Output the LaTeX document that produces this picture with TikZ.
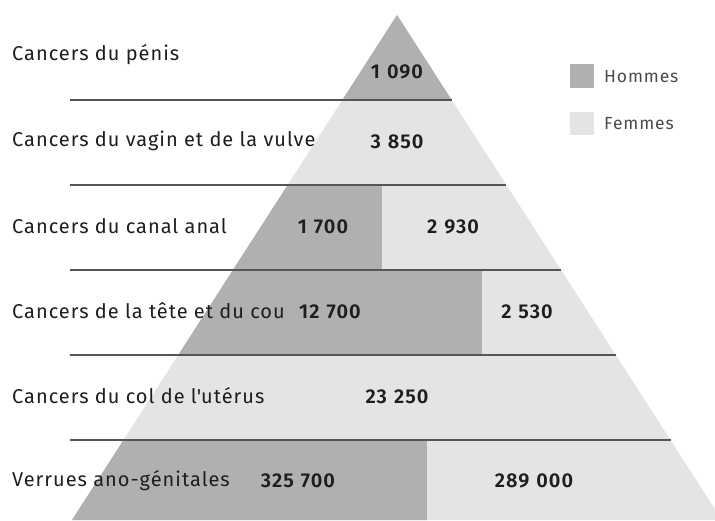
\documentclass[tikz,border=0pt]{standalone}
\usepackage{fontspec}
\setmainfont{Fira Sans}[LetterSpace=5,BoldFont={Fira Sans SemiBold}]
\setmonofont{Fira Sans}[LetterSpace=5]
\definecolor{darkfill}{HTML}{B0B0B0}
\definecolor{lightfill}{HTML}{E4E4E4}
\definecolor{rule}{HTML}{555555}
\definecolor{txt}{HTML}{1E1E1E}
\definecolor{legtxt}{HTML}{4A4A4A}
\newcommand{\gap}{\hspace{7pt}}
\begin{document}
\begin{tikzpicture}[x=1pt,y=-1pt,
  lbl/.style={anchor=west,inner sep=0pt,text=txt,font=\fontsize{20}{24}\selectfont},
  num/.style={inner sep=0pt,text=txt,font=\fontsize{20}{24}\selectfont\bfseries},
  legend/.style={anchor=west,inner sep=0pt,text=legtxt,font=\fontsize{17.5}{22}\selectfont},
  sep/.style={draw=rule,line width=1.5pt}]
\useasboundingbox (0,0) rectangle (715,520);
% pyramid
\coordinate (apex) at (397,15);
\coordinate (bl) at (72,520);
\coordinate (br) at (722,520);
\fill[lightfill] (apex) -- (bl) -- (br) -- cycle;
\begin{scope}
  \clip (apex) -- (bl) -- (br) -- cycle;
  \fill[darkfill] (0,0) rectangle (800,100);
  \fill[darkfill] (0,185) rectangle (382,270);
  \fill[darkfill] (0,270) rectangle (482,355);
  \fill[darkfill] (0,440) rectangle (427,530);
\end{scope}
% separators
\draw[sep] (70,100) -- (451.7,100);
\draw[sep] (70,185) -- (506.4,185);
\draw[sep] (70,270) -- (561.1,270);
\draw[sep] (70,355) -- (615.8,355);
\draw[sep] (70,440) -- (670.5,440);
% labels
\node[lbl] (l1) at (12,55) {Cancers du pénis};
\node[lbl] (l2) at (12,141) {Cancers du vagin et de la vulve};
\node[lbl] (l3) at (12,226) {Cancers du canal anal};
\node[lbl] (l4) at (12,311) {Cancers de la tête et du cou};
\node[lbl] (l5) at (12,396) {Cancers du col de l{\ttfamily'}utérus};
\node[lbl] (l6) at (12,481) {Verrues ano-génitales};
% numbers
\node[num] (n1) at (397,72) {1\gap090};
\node[num] (n2) at (397,142) {3\gap850};
\node[num] (n3a) at (323,227) {1\gap700};
\node[num] (n3b) at (453,227) {2\gap930};
\node[num] (n4a) at (330,312) {12\gap700};
\node[num] (n4b) at (527,312) {2\gap530};
\node[num] (n5) at (397,397) {23\gap250};
\node[num] (n6a) at (298,481) {325\gap700};
\node[num] (n6b) at (534,481) {289\gap000};
% legend
\fill[darkfill] (570,64) rectangle (594,88);
\fill[lightfill] (570,112) rectangle (594,135);
\node[legend] (h) at (604,77) {Hommes};
\node[legend] (f) at (604,124) {Femmes};
\end{tikzpicture}
\end{document}
